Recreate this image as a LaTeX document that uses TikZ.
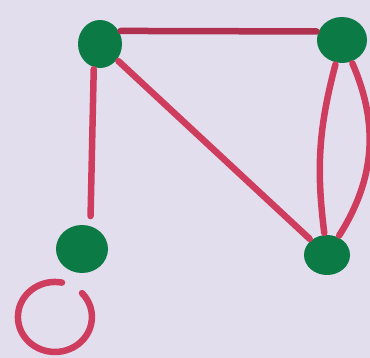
\documentclass[tikz,border=0pt]{standalone}
\usetikzlibrary{shapes.geometric}

\begin{document}
\begin{tikzpicture}[x=1pt, y=-1pt,
  vertex/.style={ellipse, fill=VertexColor, inner sep=0pt},
  edge/.style={draw=EdgeColor, line width=6.5pt, line cap=round, shorten <=2pt, shorten >=2pt}]

% Define Colors
\definecolor{PaperColor}{HTML}{E3DEEE}
\definecolor{VertexColor}{HTML}{0B7A45}
\definecolor{EdgeColor}{HTML}{CF3D5E}
\definecolor{TopEdgeColor}{HTML}{B0304F}

% Paper
\fill[PaperColor] (0,0) rectangle (370,358);
\useasboundingbox (0,0) rectangle (370,358);

% Vertices (hand drawn blobs)
\node[vertex, minimum width=44pt, minimum height=48pt] (topleft) at (100,44) {};
\node[vertex, minimum width=50pt, minimum height=46pt] (topright) at (342,40) {};
\node[vertex, minimum width=52pt, minimum height=48pt] (bottomleft) at (82,249) {};
\node[vertex, minimum width=46pt, minimum height=40pt] (bottomright) at (327,255) {};

% Edges
\draw[edge, draw=TopEdgeColor] (topleft.35) -- (topright.160);
\draw[edge, shorten >=10pt] (topleft.255) -- (bottomleft.70);
\draw[edge] (topleft) -- (bottomright);

% Double edge on the right side
\draw[edge] (topright) to[bend right=11] (bottomright);
\draw[edge] (topright) to[bend left=28] (bottomright);

% Self loop below the lower left vertex (open at the top)
\draw[edge, shorten <=0pt, shorten >=0pt] (bottomleft.center) ++(-20,33.6)
  arc[start angle=-79, end angle=-403, x radius=37, y radius=35];

\end{tikzpicture}
\end{document}
